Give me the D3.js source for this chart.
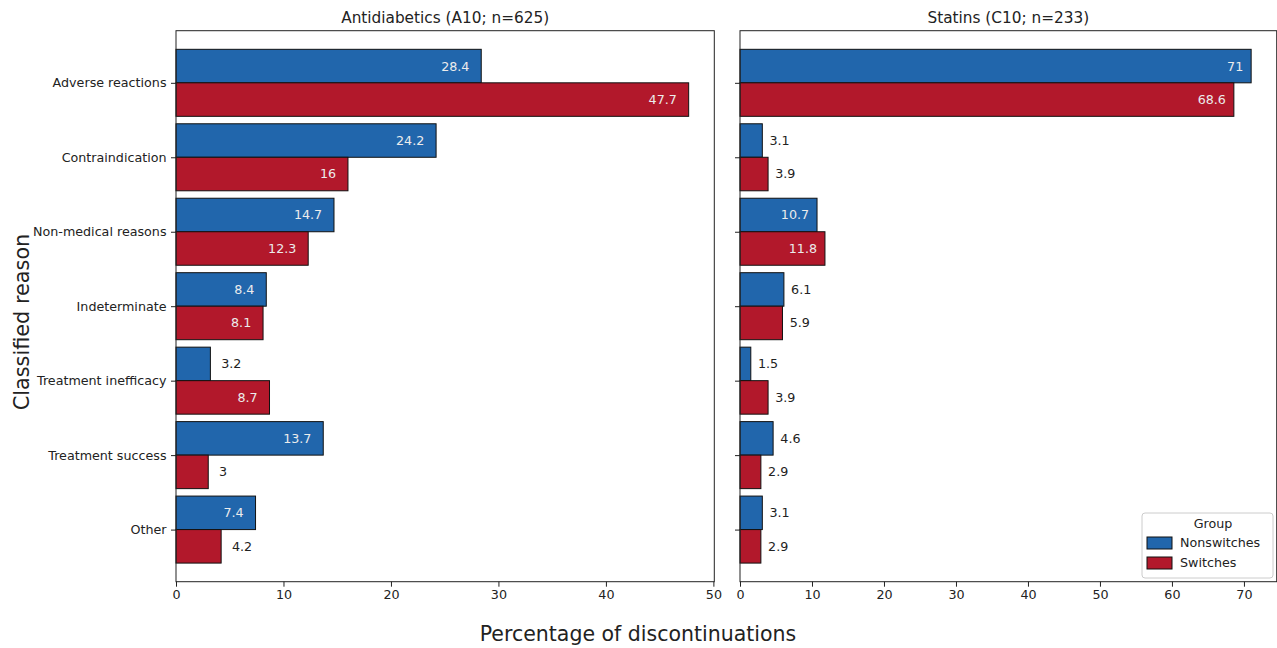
<!DOCTYPE html>
<html>
<head>
<meta charset="utf-8">
<script src="https://cdn.jsdelivr.net/npm/d3@7/dist/d3.min.js"></script>
<style>
  html, body { margin: 0; padding: 0; background: #fff; }
  svg { display: block; font-family: "DejaVu Sans", sans-serif; }
</style>
</head>
<body>
<svg id="chart" width="1277" height="648"></svg>
<script>
// Discontinuation reasons, by drug class and group (percent)
const reasons = ["Adverse reactions", "Contraindication", "Non-medical reasons",
  "Indeterminate", "Treatment inefficacy", "Treatment success", "Other"];
const groups = ["Nonswitches", "Switches"];
const groupColors = ["#2166ac", "#b2182b"];

const a10Nonswitches = [28.4, 24.2, 14.7, 8.4, 3.2, 13.7, 7.4];
const a10Switches    = [47.7, 16, 12.3, 8.1, 8.7, 3, 4.2];
const c10Nonswitches = [71, 3.1, 10.7, 6.1, 1.5, 4.6, 3.1];
const c10Switches    = [68.6, 3.9, 11.8, 5.9, 3.9, 2.9, 2.9];

const a10Ticks = [0, 10, 20, 30, 40, 50];
const c10Ticks = [0, 10, 20, 30, 40, 50, 60, 70];

const panels = [
  { title: "Antidiabetics (A10; n=625)", series: [a10Nonswitches, a10Switches], ticks: a10Ticks, x0: 176, x1: 714.3, showY: true },
  { title: "Statins (C10; n=233)", series: [c10Nonswitches, c10Switches], ticks: c10Ticks, x0: 740, x1: 1276.7, showY: false }
];

const svg = d3.select("#chart");
const plotTop = 30.7, plotBottom = 581.7;
const barH = 0.45;
const ink = "#222";

const y = d3.scaleLinear().domain([-0.7, reasons.length - 1 + 0.7]).range([plotTop, plotBottom]);
const fmt = v => String(v);

panels.forEach((p) => {
  const maxV = d3.max(p.series.flat());
  const x = d3.scaleLinear().domain([0, maxV * 1.05]).range([p.x0, p.x1]);
  const g = svg.append("g");

  // bars: first group above the category line, second below
  p.series.forEach((vals, si) => {
    g.selectAll(null).data(vals).enter().append("rect")
      .attr("x", x(0))
      .attr("y", (d, i) => y(i - barH + si * barH))
      .attr("width", d => x(d) - x(0))
      .attr("height", y(barH) - y(0))
      .attr("fill", groupColors[si])
      .attr("stroke", "#111")
      .attr("stroke-width", 1);

    // value labels: inside for long bars, outside otherwise
    g.selectAll(null).data(vals).enter().append("text")
      .each(function (d, i) {
        const inside = d > maxV * 1.05 * 0.12;
        d3.select(this)
          .attr("x", inside ? x(d - 1.1) : x(d + 1))
          .attr("y", y(i - barH / 2 + si * barH))
          .attr("dy", "0.35em")
          .attr("text-anchor", inside ? "end" : "start")
          .attr("fill", inside ? "#ececec" : ink)
          .attr("font-size", 12.7)
          .text(fmt(d));
      });
  });

  // frame
  g.append("rect")
    .attr("x", p.x0).attr("y", plotTop)
    .attr("width", p.x1 - p.x0).attr("height", plotBottom - plotTop)
    .attr("fill", "none").attr("stroke", ink).attr("stroke-width", 1);

  // x axis
  const xAxis = d3.axisBottom(x).tickValues(p.ticks).tickSize(5).tickPadding(3.5).tickFormat(d3.format("d"));
  const xg = g.append("g").attr("transform", `translate(0,${plotBottom})`).call(xAxis);
  xg.select(".domain").remove();
  xg.selectAll("line").attr("stroke", ink);
  xg.selectAll("text").attr("font-size", 12.7).attr("fill", ink).attr("font-family", "DejaVu Sans, sans-serif");

  // y axis
  const yAxis = d3.axisLeft(y).tickValues(d3.range(reasons.length)).tickSize(5).tickPadding(4.5)
    .tickFormat(i => p.showY ? reasons[i] : "");
  const yg = g.append("g").attr("transform", `translate(${p.x0},0)`).call(yAxis);
  yg.select(".domain").remove();
  yg.selectAll("line").attr("stroke", ink);
  yg.selectAll("text").attr("font-size", 12.7).attr("fill", ink).attr("font-family", "DejaVu Sans, sans-serif");

  // panel title
  g.append("text")
    .attr("x", (p.x0 + p.x1) / 2).attr("y", 22.5)
    .attr("text-anchor", "middle").attr("font-size", 15.3).attr("fill", ink)
    .text(p.title);
});

// shared axis labels, centred on the figure
svg.append("text")
  .attr("x", 638).attr("y", 641)
  .attr("text-anchor", "middle").attr("font-size", 20.5).attr("fill", ink)
  .text("Percentage of discontinuations");

svg.append("text")
  .attr("transform", "translate(28.5,322) rotate(-90)")
  .attr("text-anchor", "middle").attr("font-size", 20.8).attr("fill", ink)
  .text("Classified reason");

// legend
const lg = svg.append("g").attr("transform", "translate(1142,513)");
lg.append("rect").attr("width", 131).attr("height", 65).attr("rx", 3)
  .attr("fill", "#fff").attr("fill-opacity", 0.8).attr("stroke", "#ccc");
lg.append("text").attr("x", 71).attr("y", 15).attr("text-anchor", "middle")
  .attr("font-size", 12.7).attr("fill", ink).text("Group");
groups.forEach((name, i) => {
  lg.append("rect").attr("x", 5).attr("y", 24 + i * 20).attr("width", 25).attr("height", 12)
    .attr("fill", groupColors[i]).attr("stroke", "#111");
  lg.append("text").attr("x", 38).attr("y", 30 + i * 20).attr("dy", "0.35em")
    .attr("font-size", 12.7).attr("fill", ink).text(name);
});
</script>
</body>
</html>
